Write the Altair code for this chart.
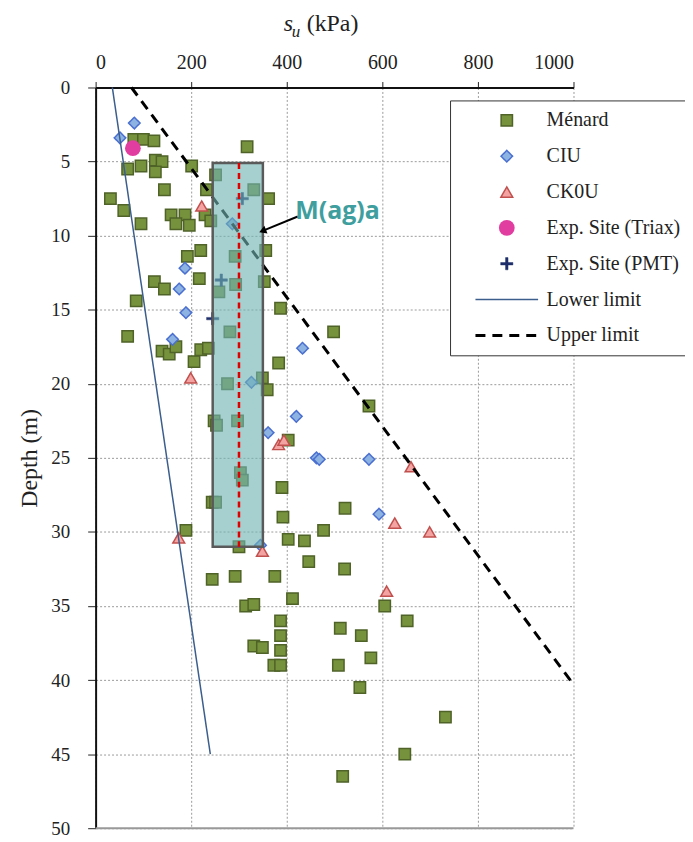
import altair as alt
import pandas as pd

# ---------------- data ----------------
series_names = ["Ménard", "CIU", "CK0U", "Exp. Site (Triax)", "Exp. Site (PMT)",
                "Lower limit", "Upper limit"]

menard_su = [80, 100, 122, 317, 67, 95, 125, 139, 125, 201, 251, 144, 232, 331, 362,
             31, 59, 95, 158, 187, 168, 196, 229, 241, 220, 192, 356, 292,
             123, 144, 217, 293, 353, 258, 85, 387, 281, 498, 67,
             139, 154, 168, 206, 220, 236, 383, 349, 359, 276, 572,
             248, 253, 297, 403, 303, 307, 390, 244, 251, 522, 392,
             189, 477, 403, 437, 300, 446, 521, 244, 292, 375,
             412, 314, 331, 605, 387, 652, 512, 387, 556,
             331, 349, 387, 576, 373, 387, 508, 553, 732, 647, 517]
menard_depth = [3.5, 3.5, 3.6, 4.0, 5.5, 5.3, 4.9, 5.0, 5.7, 5.3, 5.9, 6.9, 6.9, 6.9, 7.5,
                7.5, 8.3, 9.2, 8.6, 8.6, 9.2, 9.3, 8.6, 9.0, 11.0, 11.4, 11.0, 11.4,
                13.1, 13.6, 12.9, 13.3, 13.1, 13.8, 14.4, 14.9, 16.5, 16.5, 16.8,
                17.8, 18.0, 17.5, 18.5, 17.7, 17.6, 18.6, 19.6, 20.4, 20.0, 21.5,
                22.5, 22.8, 22.5, 23.8, 26.0, 26.5, 27.0, 28.0, 28.0, 28.4, 29.0,
                29.9, 29.9, 30.5, 30.6, 31.0, 32.0, 32.5, 33.2, 33.0, 33.0,
                34.5, 35.0, 34.9, 35.0, 36.0, 36.0, 36.5, 37.0, 37.0,
                37.7, 37.8, 38.0, 38.5, 39.0, 39.0, 39.0, 40.5, 42.5, 45.0, 46.5]

ciu_su = [81, 51, 286, 187, 175, 189, 161, 433, 326, 420, 361, 462, 468, 572, 593, 345]
ciu_depth = [2.4, 3.4, 9.2, 12.2, 13.6, 15.2, 17.0, 17.6, 19.9, 22.2, 23.3, 25.0, 25.1,
             25.1, 28.8, 30.9]

ck0u_su = [222, 199, 383, 394, 660, 626, 699, 174, 349, 609]
ck0u_depth = [8.0, 19.6, 24.1, 23.8, 25.6, 29.4, 30.0, 30.4, 31.3, 34.0]

triax_su = [78]
triax_depth = [4.1]

pmt_su = [307, 263, 245]
pmt_depth = [7.5, 13.0, 15.6]

lower_su = [35, 240]
lower_depth = [0, 45]
upper_su = [75, 1000]
upper_depth = [0, 40.3]

# M(ag)a band
band_su_left = [245]
band_su_right = [350]
band_depth_top = [5.1]
band_depth_bottom = [31.0]
band_mean_su = [300]

# annotation
annot_label = ["M(ag)a"]
annot_su = [418]
annot_depth = [8.9]
arrow_su = [423, 349.4]
arrow_depth = [8.71, 9.68]

x_ticks = [0, 200, 400, 600, 800, 1000]
y_ticks = [0, 5, 10, 15, 20, 25, 30, 35, 40, 45, 50]

# ---------------- tables ----------------
rows = []
for name, xs, ys in [("Ménard", menard_su, menard_depth), ("CIU", ciu_su, ciu_depth),
                     ("CK0U", ck0u_su, ck0u_depth),
                     ("Exp. Site (Triax)", triax_su, triax_depth),
                     ("Exp. Site (PMT)", pmt_su, pmt_depth)]:
    for a, b in zip(xs, ys):
        rows.append({"series": name, "su": a, "depth": b})
points_df = pd.DataFrame(rows)

line_rows = []
for name, xs, ys in [("Lower limit", lower_su, lower_depth), ("Upper limit", upper_su, upper_depth)]:
    for a, b in zip(xs, ys):
        line_rows.append({"series": name, "su": a, "depth": b})
lines_df = pd.DataFrame(line_rows)

band_df = pd.DataFrame({"su": band_su_left, "su2": band_su_right,
                        "depth": band_depth_top, "depth2": band_depth_bottom,
                        "m": band_mean_su})
annot_df = pd.DataFrame({"t": annot_label, "su": annot_su, "depth": annot_depth})
arrow_df = pd.DataFrame({"su": arrow_su, "depth": arrow_depth, "o": [0, 1]})
head_df = pd.DataFrame({"su": arrow_su[-1:], "depth": arrow_depth[-1:]})
bottom_df = pd.DataFrame({"su": [x_ticks[0]], "su2": [x_ticks[-1]], "depth": [y_ticks[-1]]})

# ---------------- scales & axes ----------------
SERIF = "Liberation Serif"
PLUS = "M-1,-0.2H1V0.2H-1Z M-0.2,-1H0.2V1H-0.2Z"
fill_sc = alt.Scale(domain=series_names,
                    range=["#76923C", "#8DB3E2", "#F4A3A3", "#E13C9F", "#1F2F6B",
                           "transparent", "transparent"])
stroke_sc = alt.Scale(domain=series_names,
                      range=["#4F6228", "#4A6FD0", "#C0504D", "#E13C9F", "#1F2F6B",
                             "#3B5E8C", "#000000"])
shape_sc = alt.Scale(domain=series_names,
                     range=["square", "diamond", "triangle-up", "circle", PLUS,
                            "M-6,0H6", "M-6,0H6"])
size_sc = alt.Scale(type="ordinal", domain=series_names,
                    range=[130, 135, 140, 250, 150, 110, 110])
sw_sc = alt.Scale(type="ordinal", domain=series_names,
                  range=[1.5, 1.5, 1.5, 0, 0.5, 1.5, 3])
dash_sc = alt.Scale(domain=series_names,
                    range=[[1, 0], [1, 0], [1, 0], [1, 0], [1, 0], [1, 0], [10, 7]])

xsc = alt.Scale(domain=[0, 1000], nice=False, zero=False)
ysc = alt.Scale(domain=[0, 50], reverse=True, nice=False)

x_axis = alt.Axis(orient="top", values=x_ticks, format="d", grid=True, title=None,
                  tickSize=6, labelPadding=9, labelFont=SERIF, labelFontSize=20,
                  labelColor="#222", domainColor="#111", domainWidth=2,
                  tickColor="#222", gridColor="#9a9a9a", gridDash=[2, 2])
y_axis = alt.Axis(orient="left", values=y_ticks, format="d", grid=True,
                  title="Depth (m)", tickSize=8, labelPadding=18,
                  labelFont=SERIF, labelFontSize=19, labelColor="#222",
                  domainColor="#111", domainWidth=2, tickColor="#222",
                  gridColor="#9a9a9a", gridDash=[2, 2],
                  titleFont=SERIF, titleFontSize=24, titleFontWeight="normal",
                  titleColor="#222", titlePadding=9)


def X(field="su"):
    return alt.X(f"{field}:Q", scale=xsc, axis=x_axis)


def Y(field="depth"):
    return alt.Y(f"{field}:Q", scale=ysc, axis=y_axis)


leg = alt.Legend(orient="none", legendX=356, legendY=13, title=None,
                 labelFont=SERIF, labelFontSize=20, labelColor="#222",
                 fillColor="white", strokeColor="#333", padding=10,
                 rowPadding=16, symbolOffset=37, labelOffset=30, labelLimit=400)

points = alt.Chart(points_df).mark_point(filled=True, opacity=1).encode(
    x=X(), y=Y(),
    fill=alt.Fill("series:N", scale=fill_sc, legend=leg),
    stroke=alt.Stroke("series:N", scale=stroke_sc, legend=leg),
    shape=alt.Shape("series:N", scale=shape_sc, legend=leg),
    size=alt.Size("series:N", scale=size_sc, legend=leg),
    strokeWidth=alt.StrokeWidth("series:N", scale=sw_sc, legend=leg),
    strokeDash=alt.StrokeDash("series:N", scale=dash_sc, legend=leg),
)

bottom = alt.Chart(bottom_df).mark_rule(color="#999999", strokeWidth=2).encode(
    x=X(), x2="su2:Q", y=Y())

lines = alt.Chart(lines_df).mark_line().encode(
    x=X(), y=Y(),
    stroke=alt.Stroke("series:N", scale=stroke_sc, legend=None),
    strokeWidth=alt.StrokeWidth("series:N", scale=sw_sc, legend=None),
    strokeDash=alt.StrokeDash("series:N", scale=dash_sc, legend=None),
    order="depth:Q",
)

band = alt.Chart(band_df).mark_rect(fill="#6FB3B3", fillOpacity=0.62, stroke="#5A5A5A",
                                    strokeWidth=2.5, strokeOpacity=1).encode(
    x=X(), x2="su2:Q", y=Y(), y2="depth2:Q")

mean_line = alt.Chart(band_df).mark_rule(color="#E00000", strokeWidth=2.5,
                                         strokeDash=[6, 4]).encode(
    x=X("m"), y=Y(), y2="depth2:Q")

arrow = alt.Chart(arrow_df).mark_line(color="black", strokeWidth=2).encode(
    x=X(), y=Y(), order="o:Q")

head = alt.Chart(head_df).mark_point(shape="triangle-up", filled=True, color="black",
                                     opacity=1, size=70, angle=248).encode(x=X(), y=Y())

annot = alt.Chart(annot_df).mark_text(font="Open Sans", fontWeight="bold", fontSize=25,
                                      color="#3F9E9E", align="left",
                                      baseline="alphabetic").encode(
    x=X(), y=Y(), text="t:N")

# axis title  s_u (kPa)
t_s = alt.Chart(pd.DataFrame({"t": ["s"]})).mark_text(
    font=SERIF, fontSize=24, fontStyle="italic", align="left", baseline="alphabetic",
    color="#222").encode(x=alt.value(189), y=alt.value(-56.5), text="t:N")
t_u = alt.Chart(pd.DataFrame({"t": ["u"]})).mark_text(
    font=SERIF, fontSize=17, fontStyle="italic", align="left", baseline="alphabetic",
    color="#222").encode(x=alt.value(197), y=alt.value(-51), text="t:N")
t_k = alt.Chart(pd.DataFrame({"t": ["(kPa)"]})).mark_text(
    font=SERIF, fontSize=24, align="left", baseline="alphabetic",
    color="#222").encode(x=alt.value(212), y=alt.value(-56.5), text="t:N")

chart = alt.layer(points, bottom, lines, band, mean_line, arrow, head, annot,
                  t_s, t_u, t_k).properties(
    width=480, height=744,
    autosize=alt.AutoSizeParams(type="none"),
    padding={"left": 88, "top": 78, "right": 112, "bottom": 12},
).configure_view(stroke=None)

chart.save("out.html", embed_options={"renderer": "svg", "actions": False})
